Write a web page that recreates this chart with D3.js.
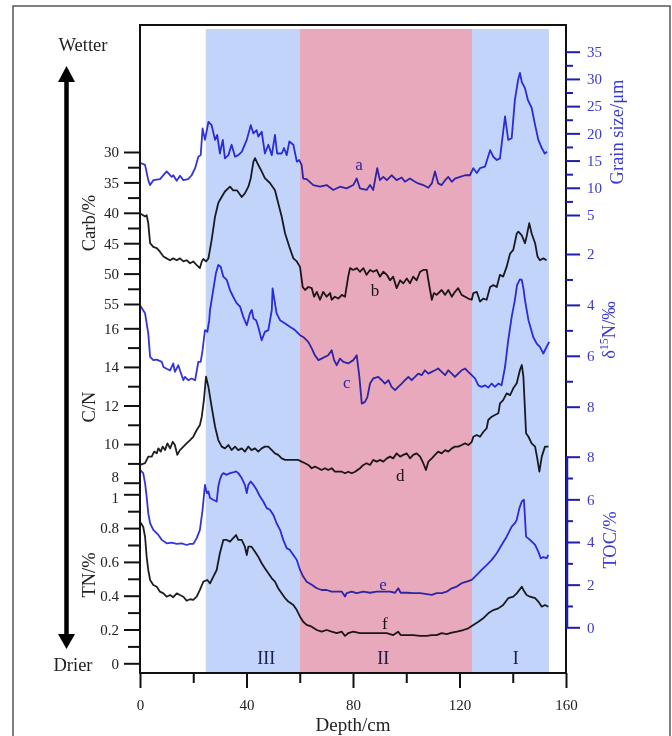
<!DOCTYPE html>
<html><head><meta charset="utf-8">
<script src="https://cdn.jsdelivr.net/npm/d3@7"></script>
<style>
html,body{margin:0;padding:0;background:#fff;}
svg{display:block;}
</style></head><body>
<svg id="c" width="672" height="736"></svg>
<script>
// ---------------- DATA ----------------
// a: grain size (µm)
const depthA = [0,1.9,3.1,3.8,5.0,7.5,10.0,11.9,12.5,13.8,
 15.0,16.3,18.1,19.4,20.7,21.9,22.8,23.5,24.4,25.7,
 26.9,28.2,29.0,30.0,31.1,31.9,33.2,34.4,35.7,36.9,
 38.2,40.1,41.6,42.6,43.8,44.4,45.7,46.9,48.2,49.5,
 50.7,51.5,53.2,54.1,55.1,56.1,57.6,58.9,59.8,60.7,
 61.3,62.6,65.1,67.6,70.1,72.6,75.1,77.6,80.1,81.4,
 82.6,85.1,86.4,87.6,89.1,90.1,91.4,92.7,94.5,96.4,
 98.3,99.5,101.4,103.3,104.5,106.4,108.3,109.6,110.8,112.0,
 113.3,114.6,115.8,117.1,118.3,120.2,122.1,123.9,125.2,126.5,
 127.7,129.6,131.5,132.7,134.0,135.2,137.1,138.3,139.6,140.8,
 142.0,142.7,143.4,144.6,145.7,147.1,148.4,149.6,150.9,152.0,
 152.9];
const grainSize = [14.6,14.2,11.4,10.5,11.4,11.6,13.0,12.0,12.3,11.3,
 12.2,11.4,11.6,12.3,13.6,15.7,16.0,20.9,18.8,22.1,
 21.5,18.8,19.7,16.3,18.8,15.4,16.0,17.9,15.7,16.0,
 16.6,18.8,21.5,20.0,20.6,19.4,20.3,16.3,17.9,16.0,
 19.7,16.3,16.3,17.3,16.0,18.5,17.9,14.8,15.1,14.2,
 11.7,11.6,10.5,10.2,10.5,9.6,10.2,9.9,10.5,11.7,
 9.9,9.6,10.5,9.6,13.6,11.4,12.0,11.4,12.3,11.4,
 11.9,11.1,11.7,11.1,10.8,10.5,10.0,10.8,13.0,10.8,
 10.5,11.4,12.0,11.1,11.7,12.0,12.3,12.3,13.6,12.7,
 13.6,13.9,16.9,15.7,15.1,15.4,23.1,18.8,19.1,26.1,
 29.8,31.1,29.4,28.3,26.1,24.7,21.5,18.8,17.3,16.3,
 16.6];

// b: carbonate (%)
const depthB = [0,1.2,1.9,2.5,3.1,3.8,5.0,6.3,7.5,8.8,
 10.0,11.3,12.5,13.8,15.0,16.3,17.5,18.8,20.0,21.3,
 22.5,23.2,23.8,24.8,25.7,26.9,28.2,29.4,30.0,31.9,
 33.8,35.0,36.4,38.2,39.4,40.7,41.6,42.6,43.2,44.4,
 45.7,46.9,48.8,50.7,51.9,53.2,54.5,56.1,57.6,58.9,
 60.1,61.1,62.0,63.2,64.5,65.4,66.4,67.6,68.8,70.1,
 71.4,72.0,73.2,74.5,75.8,77.0,78.2,78.9,80.1,81.4,
 82.6,83.9,85.1,86.4,87.6,88.9,90.1,91.4,92.7,93.9,
 95.1,96.4,97.7,98.9,100.2,101.4,102.6,103.9,105.2,106.4,
 107.7,108.3,109.6,110.4,111.4,113.3,114.6,115.8,117.1,118.3,
 119.5,120.8,122.1,123.3,124.6,125.2,126.5,127.7,128.9,130.2,
 131.5,132.7,134.0,135.2,136.4,137.7,139.0,140.2,141.5,142.1,
 143.4,144.6,145.2,146.2,147.1,148.4,149.3,150.2,151.5,152.7];
const carb = [40.1,40.4,40.6,40.4,41.7,45.0,45.6,45.8,46.4,47.2,
 47.5,47.8,47.5,47.8,47.5,48.0,47.8,48.3,48.0,48.6,
 49.1,48.0,47.6,48.0,47.5,44.5,40.6,38.4,37.9,36.5,
 35.7,36.3,36.3,37.4,36.8,35.7,34.3,31.6,31.0,32.1,
 33.2,34.3,35.1,36.3,38.4,40.6,43.4,45.6,47.5,48.0,
 48.9,52.2,52.7,52.2,52.4,53.8,53.0,54.3,53.0,53.8,
 53.2,54.3,53.8,54.1,53.5,53.8,50.5,49.1,49.4,49.1,
 49.7,49.1,50.2,49.4,49.7,49.4,50.5,49.7,50.2,51.1,
 50.5,52.4,51.1,51.6,50.8,51.6,50.5,51.1,49.7,49.4,
 49.4,51.1,54.3,53.2,53.5,52.7,53.5,52.7,53.8,53.0,
 52.4,53.5,53.8,54.1,54.3,53.2,53.0,54.6,54.1,54.3,
 52.2,51.9,52.2,50.2,50.5,48.9,46.7,46.1,43.4,43.1,
 43.7,45.0,43.9,41.7,43.4,45.0,47.2,47.8,47.5,47.8];

// c: δ15N (‰)
const depthC = [0,1.9,3.1,3.8,5.0,6.3,8.2,8.8,10.0,11.3,
 12.5,13.1,14.4,15.0,16.3,16.9,18.1,19.4,20.7,21.9,
 22.8,23.5,24.4,25.3,26.0,26.3,27.5,28.5,29.4,30.3,
 31.3,32.6,33.8,35.0,36.3,37.6,38.8,40.1,41.3,42.0,
 42.6,43.6,44.4,45.7,46.9,48.2,49.5,49.8,51.3,52.6,
 54.5,56.3,58.2,60.1,61.3,63.2,64.5,65.7,67.0,68.2,
 69.5,70.7,72.0,72.9,73.9,75.1,76.4,78.2,80.1,81.4,
 82.4,83.3,84.5,85.4,86.4,87.6,89.5,90.8,92.0,93.3,
 94.5,95.8,97.0,98.3,99.5,100.8,102.0,103.3,104.5,105.8,
 107.0,108.3,109.6,110.8,112.0,113.3,114.6,115.8,117.1,118.3,
 119.5,120.8,122.1,123.3,124.6,125.8,127.1,128.3,129.6,130.8,
 132.1,133.3,134.6,135.8,137.1,138.3,139.6,140.8,141.6,142.7,
 143.4,144.0,144.6,145.9,147.7,149.0,150.2,151.5,152.7,153.7];
const d15N = [4.01,4.33,5.12,6.04,6.17,6.15,6.24,6.44,6.51,6.57,
 6.30,6.63,6.37,6.57,6.96,6.83,6.96,6.89,6.96,6.24,
 6.24,5.78,4.99,5.06,4.60,4.20,3.42,2.76,2.43,2.50,
 2.89,3.02,3.42,3.68,3.93,4.07,4.47,4.80,4.33,4.20,
 4.53,4.60,4.86,5.39,5.06,4.99,4.20,3.35,4.33,4.60,
 4.73,4.86,4.99,5.19,5.26,5.45,5.71,5.98,6.17,6.11,
 6.04,5.98,5.78,6.17,6.37,6.11,6.24,6.30,6.17,5.98,
 6.83,7.88,7.81,7.62,7.09,6.89,6.83,6.96,7.09,6.96,
 7.22,7.35,7.22,7.09,6.96,6.83,6.96,6.83,6.70,6.76,
 6.57,6.70,6.63,6.57,6.50,6.63,6.76,6.57,6.70,6.83,
 6.70,6.57,6.50,6.63,6.76,6.89,7.16,7.22,7.16,7.25,
 7.09,7.22,7.09,7.16,6.44,5.39,4.47,3.81,3.22,3.00,
 3.02,3.34,3.81,4.60,5.26,5.52,5.65,5.91,5.65,5.45];

// d: C/N
const depthD = [0,1.9,3.1,4.4,5.3,6.3,6.9,7.8,8.5,9.4,
 10.3,11.3,12.3,13.1,14.0,15.0,16.3,17.5,18.8,20.0,
 21.3,22.5,23.2,24.0,24.8,25.7,26.9,28.2,29.4,30.7,
 31.9,33.2,34.4,35.7,36.9,38.2,39.4,40.7,41.9,43.2,
 44.4,45.7,46.9,48.2,49.5,50.7,51.9,53.2,54.5,55.7,
 57.6,59.5,60.7,62.0,63.2,64.5,65.7,67.0,68.2,69.5,
 70.7,72.0,73.2,74.5,75.8,77.0,78.2,79.5,80.8,82.6,
 83.9,85.1,86.4,87.6,88.9,90.1,91.4,92.7,93.9,95.1,
 96.4,97.7,98.9,100.2,101.4,102.6,103.9,105.2,106.4,107.4,
 108.3,109.6,110.8,112.0,113.3,114.6,115.8,117.1,118.3,119.5,
 120.8,122.1,123.3,124.6,125.2,126.5,127.7,129.0,130.2,130.8,
 132.1,133.3,134.6,135.2,136.4,137.7,139.0,140.2,141.5,142.7,
 143.4,144.0,145.0,145.9,147.1,148.4,149.3,150.0,150.9,152.1,
 153.4];
const cn = [8.92,9.01,9.35,9.35,9.61,9.52,9.78,9.61,9.87,9.69,
 10.04,9.78,10.12,9.95,9.44,9.69,9.87,10.04,10.21,10.38,
 10.73,10.99,11.42,12.28,13.49,12.97,11.94,10.90,10.21,9.87,
 9.78,9.95,9.69,9.87,9.69,9.78,9.61,9.87,9.69,9.78,
 9.61,9.78,9.87,9.87,9.69,9.52,9.44,9.26,9.18,9.18,
 9.18,9.18,9.09,9.01,8.92,8.75,8.83,8.75,8.66,8.75,
 8.66,8.75,8.57,8.57,8.57,8.49,8.57,8.49,8.57,8.75,
 8.92,9.01,8.92,9.18,9.09,9.18,9.09,9.26,9.35,9.26,
 9.52,9.35,9.44,9.52,9.26,9.44,9.52,9.35,9.01,8.66,
 9.09,9.26,9.44,9.61,9.52,9.69,9.61,9.78,9.87,9.87,
 9.95,10.04,9.95,10.12,10.38,10.47,10.38,10.64,10.82,11.25,
 11.42,11.51,11.60,12.11,12.28,12.63,12.54,12.89,13.15,13.84,
 14.10,13.49,10.56,10.38,10.04,9.87,9.18,8.57,9.35,9.87,
 9.87];

// e: TOC (%)
const depthE = [0,1.2,1.9,2.5,3.1,3.8,5.0,6.9,8.2,10.0,
 11.9,13.8,15.7,17.5,18.8,20.0,21.3,22.5,23.5,24.4,
 25.1,25.7,26.3,27.5,28.8,29.4,30.0,30.7,31.3,32.6,
 33.8,35.0,36.1,36.9,38.2,39.4,40.1,40.7,41.6,42.6,
 43.8,45.1,46.3,47.6,48.8,50.1,51.3,52.6,53.8,55.1,
 56.3,57.6,58.9,60.1,61.3,62.6,64.5,66.4,68.2,70.1,
 72.0,73.9,75.8,77.0,77.6,79.5,81.4,83.9,86.4,88.9,
 91.4,93.9,95.8,97.0,97.9,100.2,102.6,105.2,107.7,109.6,
 111.4,113.3,115.2,117.1,119.0,120.8,122.7,124.6,126.5,128.3,
 130.2,132.1,134.0,135.8,137.7,139.6,140.8,141.5,142.5,143.4,
 144.2,145.0,146.5,148.4,149.6,150.5,151.5,152.7,153.4];
const toc = [7.38,7.23,6.76,6.13,5.35,4.88,4.57,4.33,4.10,3.94,
 3.97,3.91,3.94,3.86,3.91,3.91,4.18,4.57,5.51,6.68,
 6.29,6.37,6.06,5.98,5.90,6.60,6.92,7.15,7.23,7.15,
 7.23,7.26,7.31,7.23,7.00,6.68,6.29,6.68,6.84,6.68,
 6.45,6.13,5.90,5.59,5.51,5.27,4.88,4.57,4.10,3.71,
 3.63,3.39,3.16,2.69,2.38,2.14,1.99,1.83,1.75,1.75,
 1.67,1.67,1.67,1.44,1.60,1.67,1.60,1.67,1.62,1.67,
 1.67,1.67,1.62,1.83,1.62,1.62,1.60,1.60,1.56,1.52,
 1.60,1.60,1.67,1.83,1.91,2.07,2.14,2.22,2.46,2.69,
 2.92,3.16,3.47,3.86,4.25,4.72,4.88,5.04,5.59,5.90,
 5.98,4.25,4.10,3.86,3.55,3.24,3.29,3.24,3.39];

// f: TN (%)
const depthF = [0,1.2,1.9,2.5,3.1,3.8,5.0,6.3,7.5,8.8,
 10.0,11.3,12.5,13.8,15.0,16.3,17.5,18.8,20.0,21.3,
 22.5,23.8,25.3,26.3,27.5,28.8,30.0,31.3,32.6,33.8,
 35.0,36.1,36.9,38.2,39.4,40.1,40.7,41.9,43.2,44.4,
 45.7,46.9,48.2,49.5,50.7,51.9,53.2,54.5,55.7,57.6,
 58.9,60.1,61.3,62.6,64.5,66.4,68.2,70.1,72.0,73.9,
 75.8,77.0,78.2,80.1,82.6,85.1,87.6,90.1,92.7,95.1,
 97.0,97.9,100.2,102.6,105.2,107.7,109.6,111.4,113.3,115.2,
 117.1,119.0,121.4,123.3,125.2,127.1,128.9,130.8,132.7,134.6,
 136.4,138.3,140.2,141.5,143.4,144.0,145.2,146.5,148.4,149.6,
 150.9,152.1,153.4];
const tn = [0.838,0.808,0.749,0.631,0.552,0.493,0.463,0.453,0.424,0.414,
 0.394,0.404,0.391,0.414,0.404,0.394,0.370,0.379,0.375,0.394,
 0.434,0.483,0.493,0.473,0.512,0.552,0.651,0.730,0.730,0.720,
 0.740,0.759,0.730,0.730,0.690,0.641,0.690,0.690,0.660,0.631,
 0.592,0.562,0.533,0.503,0.483,0.444,0.414,0.385,0.365,0.345,
 0.315,0.276,0.246,0.227,0.217,0.197,0.187,0.197,0.187,0.178,
 0.187,0.162,0.178,0.187,0.178,0.178,0.178,0.178,0.178,0.167,
 0.187,0.167,0.167,0.167,0.162,0.162,0.167,0.167,0.178,0.173,
 0.181,0.187,0.197,0.207,0.227,0.246,0.266,0.296,0.315,0.325,
 0.345,0.385,0.394,0.414,0.453,0.434,0.404,0.394,0.385,0.365,
 0.335,0.345,0.335];

// zones
const zoneNames = ["III","II","I"];
const zoneStart = [24.7,60.1,124.7];
const zoneEnd = [60.1,124.7,153.6];

// tick values
const depthTicks = [0,40,80,120,160];
const depthMinor = [20,60,100,140];
const carbTicks = [30,35,40,45,50,55];
const carbMinor = [32.5,37.5,42.5,47.5,52.5];
const cnTicks = [8,10,12,14,16];
const cnMinor = [9,11,13,15];
const tnTicks = [0,0.2,0.4,0.6,0.8,1];
const tnMinor = [0.1,0.3,0.5,0.7,0.9];
const grainTicks = [5,10,15,20,25,30,35];
const grainMinor = [7.5,12.5,17.5,22.5,27.5,32.5];
const d15NTicks = [2,4,6,8];
const d15NMinor = [3,5,7];
const tocTicks = [0,2,4,6,8];
const tocMinor = [1,3,5,7];

// ---------------- DRAW ----------------
const FONT = "'Liberation Serif','Times New Roman',serif";
const BLUE = "#3434de", BLACK = "#1f1f1f";
const AXBLUE = "#1e1ea8", LBLUE = "#3a3ad0";
const svg = d3.select("#c");
svg.append("rect").attr("width",672).attr("height",736).attr("fill","#fff");

const x = d3.scaleLinear().domain([0,160]).range([140,566]);
const yGrain = d3.scaleLinear().domain([5,35]).range([215,51.7]);
const yCarb = d3.scaleLinear().domain([30,55]).range([152,304]);
const yD15N = d3.scaleLinear().domain([2,8]).range([254,406.7]);
const yCN = d3.scaleLinear().domain([8,16]).range([482.7,328.3]);
const yTOC = d3.scaleLinear().domain([0,8]).range([627.3,456.7]);
const yTN = d3.scaleLinear().domain([0,1]).range([663.3,494.3]);

const series = [
  {d:depthA, v:grainSize, y:yGrain, c:BLUE, lab:"a", ld:82.3, lv:13.3},
  {d:depthB, v:carb, y:yCarb, c:BLACK, lab:"b", ld:88.3, lv:53.7},
  {d:depthC, v:d15N, y:yD15N, c:BLUE, lab:"c", ld:77.7, lv:7.28},
  {d:depthD, v:cn, y:yCN, c:BLACK, lab:"d", ld:97.7, lv:8.09},
  {d:depthE, v:toc, y:yTOC, c:BLUE, lab:"e", ld:91.3, lv:1.75},
  {d:depthF, v:tn, y:yTN, c:BLACK, lab:"f", ld:92.0, lv:0.203}
];

const plot = svg.append("g");
series.forEach(s => {
  const pts = d3.zip(s.d, s.v);
  plot.append("path").datum(pts)
    .attr("d", d3.line().x(p => x(p[0])).y(p => s.y(p[1])))
    .attr("fill","none").attr("stroke",s.c).attr("stroke-width",1.8)
    .attr("stroke-linejoin","round");
  plot.append("text").attr("x", x(s.ld)).attr("y", s.y(s.lv))
    .attr("text-anchor","middle").attr("font-family",FONT).attr("font-size",17)
    .attr("fill", s.c).text(s.lab);
});
zoneNames.forEach((n,i) => {
  plot.append("text").attr("x", x((zoneStart[i]+zoneEnd[i])/2 + (i===0?5:(i===2?2:-1))))
    .attr("y", yTN(0) + 1).attr("text-anchor","middle")
    .attr("font-family",FONT).attr("font-size",18).attr("fill","#22225a").text(n);
});

// shading (multiply over curves)
const zoneColors = ["#c3d4fb","#e8a9bd","#c3d4fb"];
const shade = svg.append("g");
zoneNames.forEach((n,i) => {
  shade.append("rect").attr("x", x(zoneStart[i])).attr("y", 29)
    .attr("width", x(zoneEnd[i]) - x(zoneStart[i])).attr("height", 672-29)
    .attr("fill", zoneColors[i]).style("mix-blend-mode","multiply");
});

// frame
svg.append("rect").attr("x",140).attr("y",25).attr("width",426).attr("height",648)
  .attr("fill","none").attr("stroke","#111").attr("stroke-width",2);
svg.append("line").attr("x1",567).attr("x2",567).attr("y1",yTOC(8)).attr("y2",yTOC(0))
  .attr("stroke",AXBLUE).attr("stroke-width",2.5);

function axis(gen, scale, ticks, minor, len, mlen, pad, tx, ty, lineColor, textColor, fmt) {
  const g = svg.append("g").attr("transform",`translate(${tx},${ty})`);
  g.call(gen(scale).tickValues(ticks).tickSize(len).tickSizeOuter(0).tickPadding(pad).tickFormat(fmt || (d => String(d))));
  g.select(".domain").remove();
  g.selectAll(".tick line").attr("stroke",lineColor).attr("stroke-width",2);
  g.selectAll(".tick text").attr("fill",textColor).attr("font-family",FONT).attr("font-size",15);
  const g2 = svg.append("g").attr("transform",`translate(${tx},${ty})`);
  g2.call(gen(scale).tickValues(minor).tickSize(mlen).tickSizeOuter(0).tickFormat(""));
  g2.select(".domain").remove();
  g2.selectAll(".tick line").attr("stroke",lineColor).attr("stroke-width",2);
  return g;
}
// left axes
axis(d3.axisLeft, yCarb, carbTicks, carbMinor, 16, 12, 5, 140, 0, "#111", "#222");
const gCN = axis(d3.axisLeft, yCN, cnTicks, cnMinor, 16, 12, 5, 140, 0, "#111", "#222");
const gTN = axis(d3.axisLeft, yTN, tnTicks, tnMinor, 16, 12, 5, 140, 0, "#111", "#222");
// C/N "8" and TN "1" sit almost on top of each other: nudge apart as in the reference
gCN.selectAll(".tick text").filter(d => d === 8).attr("dy","-0.05em");
gTN.selectAll(".tick text").filter(d => d === 1).attr("dy","0.55em");
// right axes
axis(d3.axisRight, yGrain, grainTicks, grainMinor, 14, 7, 7, 566, 0, AXBLUE, LBLUE);
axis(d3.axisRight, yD15N, d15NTicks, d15NMinor, 14, 7, 7, 566, 0, AXBLUE, LBLUE);
axis(d3.axisRight, yTOC, tocTicks, tocMinor, 14, 7, 7, 566, 0, AXBLUE, LBLUE);
// bottom axis
axis(d3.axisBottom, x, depthTicks, depthMinor, 15, 10, 11, 0, 673, "#111", "#222");

// titles
function vtitle(txt, tx, ty, color) {
  return svg.append("text").attr("transform",`translate(${tx},${ty}) rotate(-90)`)
    .attr("text-anchor","middle").attr("font-family",FONT).attr("font-size",18.5)
    .attr("fill",color).text(txt);
}
vtitle("Carb/%", 95, 223, "#222");
vtitle("C/N", 95, 407, "#222");
vtitle("TN/%", 95, 575, "#222");
vtitle("Grain size/μm", 623, 132, LBLUE);
const dn = svg.append("text").attr("transform","translate(615,330) rotate(-90)")
  .attr("text-anchor","middle").attr("font-family",FONT).attr("font-size",18.5).attr("fill",LBLUE);
dn.append("tspan").text("δ");
dn.append("tspan").attr("font-size",12).attr("dy",-7).text("15");
dn.append("tspan").attr("dy",7).text("N/‰");
vtitle("TOC/%", 616, 540, LBLUE);
svg.append("text").attr("x",353).attr("y",731).attr("text-anchor","middle")
  .attr("font-family",FONT).attr("font-size",19).attr("fill","#222").text("Depth/cm");

// arrow
svg.append("line").attr("x1",66.5).attr("x2",66.5).attr("y1",78).attr("y2",638)
  .attr("stroke","#000").attr("stroke-width",4.5);
svg.append("path").attr("d","M66.5,66 L58,82 L75,82 Z").attr("fill","#000");
svg.append("path").attr("d","M66.5,649 L58,634 L75,634 Z").attr("fill","#000");
svg.append("text").attr("x",83).attr("y",51).attr("text-anchor","middle")
  .attr("font-family",FONT).attr("font-size",18.5).attr("fill","#222").text("Wetter");
svg.append("text").attr("x",73).attr("y",671).attr("text-anchor","middle")
  .attr("font-family",FONT).attr("font-size",18.5).attr("fill","#222").text("Drier");

// outer border
svg.append("path").attr("d","M13,736 L13,6 L670,6 L670,736")
  .attr("fill","none").attr("stroke","#555").attr("stroke-width",1.5);
</script>
</body></html>
